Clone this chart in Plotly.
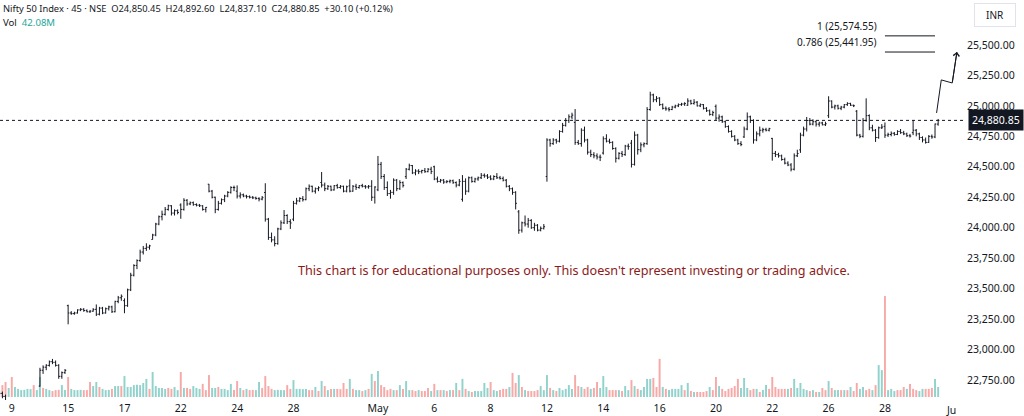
import plotly.graph_objects as go
import numpy as np

# ---------------- DATA ----------------
# trading days shown and number of 45-min bars visible for each
trading_days = ["Apr 8", "Apr 9", "Apr 11", "Apr 15", "Apr 16", "Apr 17", "Apr 21", "Apr 22",
                "Apr 23", "Apr 24", "Apr 25", "Apr 28", "Apr 29", "Apr 30", "May 2", "May 5",
                "May 6", "May 7", "May 8", "May 9", "May 12", "May 13", "May 14", "May 15",
                "May 16", "May 19", "May 20", "May 21", "May 22", "May 23", "May 26", "May 27",
                "May 28", "May 29"]
bars_per_day = [4] + [9] * 33

opens = [
    22620, 22640, 22615, 22560,
    22460, 22420, 22440, 22410, 22395, 22420, 22445, 22430, 22410,
    22700, 22830, 22855, 22870, 22900, 22895, 22870, 22780, 22810,
    23360, 23300, 23295, 23300, 23325, 23330, 23320, 23310, 23315,
    23330, 23290, 23340, 23300, 23335, 23350, 23310, 23395, 23425,
    23401, 23360, 23490, 23610, 23690, 23730, 23800, 23830, 23840,
    23903, 23940, 24030, 24090, 24110, 24150, 24180, 24120, 24140,
    24186, 24150, 24225, 24195, 24205, 24190, 24185, 24180, 24150,
    24357, 24300, 24250, 24150, 24200, 24230, 24260, 24290, 24330,
    24300, 24260, 24270, 24260, 24255, 24250, 24245, 24240, 24235,
    24289, 24070, 23920, 23900, 23870, 23990, 24040, 24100, 24050,
    24070, 24200, 24220, 24240, 24230, 24320, 24340, 24300, 24320,
    24371, 24350, 24320, 24340, 24310, 24345, 24330, 24340, 24300,
    24343, 24300, 24340, 24330, 24345, 24340, 24335, 24340, 24250,
    24311, 24520, 24420, 24330, 24280, 24290, 24390, 24320, 24370,
    24419, 24480, 24510, 24450, 24465, 24460, 24470, 24460, 24480,
    24500, 24400, 24380, 24390, 24375, 24380, 24385, 24370, 24350,
    24233, 24380, 24300, 24410, 24380, 24400, 24410, 24430, 24425,
    24416, 24400, 24420, 24410, 24405, 24390, 24340, 24320, 24290,
    24130, 23980, 24040, 24030, 24060, 24000, 24020, 23980, 23995,
    24420, 24720, 24690, 24720, 24710, 24790, 24840, 24880, 24910,
    24864, 24700, 24690, 24800, 24720, 24620, 24600, 24590, 24580,
    24613, 24730, 24710, 24700, 24650, 24570, 24610, 24600, 24670,
    24694, 24520, 24760, 24640, 24680, 24690, 24970, 25090, 25050,
    25064, 25010, 24980, 24975, 24970, 24990, 25000, 25010, 25015,
    25005, 25040, 25020, 25030, 25000, 25010, 24980, 24960, 24930,
    24996, 24900, 24910, 24870, 24830, 24790, 24750, 24720, 24690,
    24745, 24810, 24910, 24880, 24720, 24770, 24800, 24805, 24800,
    24733, 24610, 24600, 24590, 24560, 24530, 24515, 24480, 24590,
    24639, 24760, 24810, 24880, 24850, 24870, 24850, 24860, 24845,
    24919, 25040, 24990, 25000, 24980, 24990, 25010, 25020, 25005,
    24956, 24760, 24750, 24880, 24920, 24820, 24800, 24740, 24820,
    24832, 24760, 24765, 24775, 24765, 24790, 24780, 24770, 24755,
    24780, 24800, 24770, 24740, 24720, 24700, 24750, 24745, 24850.45,
]
highs = [
    22660, 22655, 22630, 22580,
    22468, 22450, 22455, 22430, 22425, 22455, 22460, 22440, 22425,
    22850, 22870, 22880, 22910, 22923, 22910, 22880, 22820, 22840,
    23368, 23315, 23310, 23330, 23340, 23340, 23330, 23325, 23340,
    23370, 23350, 23350, 23345, 23360, 23360, 23400, 23440, 23452,
    23420, 23500, 23630, 23700, 23740, 23820, 23850, 23872, 23860,
    23950, 24040, 24100, 24140, 24170, 24189, 24185, 24150, 24150,
    24200, 24242, 24235, 24215, 24215, 24200, 24195, 24185, 24170,
    24359, 24310, 24255, 24220, 24240, 24270, 24300, 24340, 24345,
    24347, 24290, 24280, 24270, 24265, 24260, 24255, 24250, 24260,
    24365, 24080, 23960, 23930, 24000, 24060, 24145, 24110, 24070,
    24220, 24245, 24250, 24260, 24330, 24355, 24345, 24330, 24340,
    24457, 24370, 24350, 24345, 24350, 24360, 24350, 24345, 24345,
    24396, 24350, 24360, 24350, 24360, 24350, 24350, 24390, 24340,
    24589, 24540, 24440, 24380, 24310, 24405, 24400, 24390, 24380,
    24490, 24526, 24515, 24480, 24480, 24475, 24490, 24490, 24500,
    24509, 24420, 24400, 24400, 24390, 24395, 24395, 24380, 24400,
    24432, 24405, 24420, 24420, 24410, 24420, 24449, 24445, 24440,
    24430, 24430, 24448, 24425, 24420, 24400, 24350, 24330, 24300,
    24145, 24050, 24100, 24080, 24070, 24040, 24030, 24010, 24030,
    24734, 24730, 24735, 24730, 24800, 24860, 24900, 24930, 24944,
    24974, 24720, 24816, 24830, 24730, 24640, 24620, 24610, 24600,
    24750, 24767, 24730, 24710, 24660, 24620, 24630, 24680, 24690,
    24720, 24790, 24770, 24700, 24700, 24990, 25116, 25100, 25080,
    25071, 25020, 24995, 24990, 25000, 25010, 25020, 25025, 25030,
    25062, 25050, 25055, 25040, 25020, 25015, 24990, 24970, 24960,
    25011, 24930, 24920, 24880, 24840, 24800, 24760, 24730, 24710,
    24830, 24946, 24920, 24890, 24790, 24830, 24820, 24820, 24820,
    24737, 24630, 24615, 24600, 24575, 24545, 24530, 24610, 24640,
    24780, 24830, 24909, 24900, 24890, 24880, 24870, 24870, 24870,
    25079, 25045, 25010, 25010, 25000, 25015, 25030, 25025, 25010,
    24966, 24770, 24900, 25062, 24930, 24845, 24810, 24830, 24850,
    24864, 24780, 24790, 24785, 24800, 24810, 24795, 24780, 24770,
    24884, 24810, 24780, 24750, 24740, 24760, 24765, 24855, 24892.60,
]
lows = [
    22590, 22600, 22540, 22500,
    22400, 22380, 22400, 22370, 22353, 22390, 22420, 22400, 22390,
    22695, 22800, 22830, 22860, 22880, 22860, 22760, 22760, 22800,
    23207, 23285, 23285, 23295, 23315, 23310, 23305, 23300, 23310,
    23275, 23280, 23290, 23295, 23320, 23300, 23305, 23380, 23400,
    23298, 23350, 23480, 23600, 23660, 23720, 23780, 23810, 23820,
    23903, 23930, 24020, 24060, 24100, 24140, 24100, 24100, 24110,
    24073, 24140, 24180, 24185, 24180, 24175, 24170, 24140, 24125,
    24290, 24240, 24119, 24140, 24190, 24210, 24250, 24280, 24300,
    24240, 24240, 24250, 24240, 24240, 24235, 24230, 24216, 24225,
    24050, 23900, 23880, 23847, 23860, 23980, 24030, 24030, 23990,
    24054, 24190, 24210, 24215, 24225, 24300, 24290, 24280, 24300,
    24330, 24300, 24310, 24300, 24305, 24320, 24320, 24290, 24290,
    24290, 24295, 24310, 24320, 24330, 24320, 24320, 24220, 24198,
    24300, 24400, 24310, 24260, 24238, 24270, 24300, 24310, 24330,
    24400, 24470, 24440, 24430, 24440, 24445, 24450, 24455, 24440,
    24390, 24370, 24370, 24360, 24365, 24365, 24360, 24331, 24340,
    24214, 24270, 24290, 24370, 24370, 24385, 24400, 24410, 24400,
    24390, 24390, 24400, 24395, 24380, 24330, 24300, 24270, 24150,
    23950, 23960, 24010, 24000, 23990, 23975, 23970, 23970, 23985,
    24378, 24665, 24680, 24690, 24700, 24780, 24830, 24860, 24890,
    24680, 24680, 24665, 24700, 24600, 24580, 24570, 24560, 24547,
    24600, 24700, 24690, 24640, 24535, 24560, 24580, 24590, 24640,
    24494, 24510, 24600, 24620, 24660, 24680, 24960, 25030, 25030,
    25000, 24970, 24960, 24954, 24965, 24980, 24990, 25000, 25000,
    25000, 25010, 25010, 24995, 24990, 24970, 24950, 24920, 24916,
    24880, 24870, 24860, 24820, 24780, 24740, 24710, 24680, 24669,
    24737, 24800, 24860, 24690, 24710, 24750, 24780, 24790, 24790,
    24550, 24580, 24575, 24550, 24520, 24505, 24462, 24470, 24580,
    24614, 24750, 24790, 24840, 24840, 24830, 24830, 24840, 24835,
    24900, 24980, 24970, 24970, 24965, 24980, 25000, 25000, 24990,
    24750, 24735, 24740, 24870, 24800, 24790, 24704, 24730, 24810,
    24737, 24745, 24750, 24755, 24760, 24770, 24760, 24745, 24740,
    24760, 24750, 24720, 24700, 24690, 24695, 24730, 24735, 24837.10,
]
closes = [
    22640, 22615, 22560, 22535,
    22420, 22440, 22410, 22395, 22420, 22445, 22430, 22410, 22399,
    22830, 22855, 22870, 22900, 22895, 22870, 22780, 22810, 22829,
    23300, 23295, 23300, 23325, 23330, 23320, 23310, 23315, 23328,
    23290, 23340, 23300, 23335, 23350, 23310, 23395, 23425, 23437,
    23360, 23490, 23610, 23690, 23730, 23800, 23830, 23840, 23851,
    23940, 24030, 24090, 24110, 24150, 24180, 24120, 24140, 24125,
    24150, 24225, 24195, 24205, 24190, 24185, 24180, 24150, 24167,
    24300, 24250, 24150, 24200, 24230, 24260, 24290, 24330, 24329,
    24260, 24270, 24260, 24255, 24250, 24245, 24240, 24235, 24247,
    24070, 23920, 23900, 23870, 23990, 24040, 24100, 24050, 24039,
    24200, 24220, 24240, 24230, 24320, 24340, 24300, 24320, 24328,
    24350, 24320, 24340, 24310, 24345, 24330, 24340, 24300, 24336,
    24300, 24340, 24330, 24345, 24340, 24335, 24340, 24250, 24334,
    24520, 24420, 24330, 24280, 24290, 24390, 24320, 24370, 24347,
    24480, 24510, 24450, 24465, 24460, 24470, 24460, 24480, 24461,
    24400, 24380, 24390, 24375, 24380, 24385, 24370, 24350, 24380,
    24380, 24300, 24410, 24380, 24400, 24410, 24430, 24425, 24414,
    24400, 24420, 24410, 24405, 24390, 24340, 24320, 24290, 24200,
    23980, 24040, 24030, 24060, 24000, 24020, 23980, 23995, 24008,
    24720, 24690, 24720, 24710, 24790, 24840, 24880, 24910, 24924,
    24700, 24690, 24800, 24720, 24620, 24600, 24590, 24580, 24578,
    24730, 24710, 24700, 24650, 24570, 24610, 24600, 24670, 24666,
    24520, 24760, 24640, 24680, 24690, 24970, 25090, 25050, 25062,
    25010, 24980, 24975, 24970, 24990, 25000, 25010, 25015, 25019,
    25040, 25020, 25030, 25000, 25010, 24980, 24960, 24930, 24945,
    24900, 24910, 24870, 24830, 24790, 24750, 24720, 24690, 24683,
    24810, 24910, 24880, 24720, 24770, 24800, 24805, 24800, 24813,
    24610, 24600, 24590, 24560, 24530, 24515, 24480, 24590, 24609,
    24760, 24810, 24880, 24850, 24870, 24850, 24860, 24845, 24853,
    25040, 24990, 25000, 24980, 24990, 25010, 25020, 25005, 25001,
    24760, 24750, 24880, 24920, 24820, 24800, 24740, 24820, 24826,
    24760, 24765, 24775, 24765, 24790, 24780, 24770, 24755, 24752,
    24800, 24770, 24740, 24720, 24700, 24750, 24745, 24850.75, 24880.85,
]
# volume in millions as seen in the volume pane
volumes = [
    29, 50, 63, 38,
    84, 42, 34, 29, 30, 34, 33, 50, 29,
    84, 38, 34, 29, 25, 29, 30, 50, 29,
    84, 34, 29, 29, 30, 29, 29, 63, 46,
    63, 42, 34, 29, 30, 34, 46, 46, 46,
    88, 42, 42, 50, 51, 50, 59, 76, 34,
    105, 46, 38, 38, 34, 38, 34, 42, 29,
    105, 38, 38, 34, 46, 38, 34, 55, 29,
    92, 38, 38, 42, 34, 34, 29, 55, 29,
    67, 38, 29, 34, 29, 30, 29, 63, 38,
    88, 46, 34, 29, 30, 29, 29, 50, 34,
    71, 34, 34, 33, 34, 29, 29, 42, 25,
    67, 46, 29, 34, 34, 34, 33, 59, 34,
    76, 34, 29, 29, 25, 29, 34, 97, 67,
    109, 50, 42, 29, 34, 29, 29, 50, 34,
    67, 29, 29, 25, 29, 25, 25, 38, 25,
    55, 29, 29, 29, 25, 29, 29, 59, 29,
    76, 34, 25, 21, 25, 25, 25, 59, 38,
    63, 29, 25, 29, 34, 34, 42, 101, 59,
    92, 42, 29, 25, 25, 25, 29, 46, 29,
    92, 38, 29, 25, 38, 29, 34, 50, 34,
    92, 46, 42, 34, 42, 34, 38, 63, 38,
    88, 42, 29, 29, 29, 29, 25, 46, 29,
    71, 46, 34, 29, 42, 76, 76, 80, 42,
    160, 42, 34, 29, 34, 34, 34, 50, 29,
    59, 25, 21, 21, 21, 21, 25, 42, 29,
    84, 46, 34, 25, 34, 38, 46, 76, 38,
    80, 38, 29, 34, 34, 21, 29, 50, 34,
    84, 42, 34, 34, 34, 34, 38, 76, 38,
    59, 34, 29, 25, 29, 21, 21, 38, 29,
    67, 38, 29, 29, 29, 29, 29, 42, 25,
    59, 34, 42, 29, 34, 29, 50, 134, 113,
    424, 29, 34, 25, 29, 29, 42, 34, 55,
    34, 29, 25, 34, 34, 34, 38, 76, 42.08,
]
# volume bar colour per day (u = teal / up, d = red / down), as seen in the reference
vol_dir_days = [
    "u d d u",
    "d u u u u u u d u",   # Apr 9
    "u d u u d d d u u",   # Apr 11
    "d u u u u d d d u",   # Apr 15
    "u d u u u d u u d",   # Apr 16
    "u u u u u u u u d",   # Apr 17
    "u u u u u d d u u",   # Apr 21
    "d u d d u u u d d",   # Apr 22
    "d u u d u u u u d",   # Apr 23
    "d u d u d d u u d",   # Apr 24
    "d d d u u u u d d",   # Apr 25
    "u u u u u d d u d",   # Apr 28
    "u d u d u d d d d",   # Apr 29
    "u d u u d u d u d",   # Apr 30
    "u d d d d u d u d",   # May 2
    "u u d d u d d d u",   # May 5
    "d u d u d u d u d",   # May 6
    "u d u d u u u u u",   # May 7
    "d u u d d d u d d",   # May 8
    "u d u d d d d u u",   # May 9
    "u d u d u u u u u",   # May 12
    "d d u d d u d d u",   # May 13
    "u u d d d u d u u",   # May 14
    "d u d u u u u d d",   # May 15
    "d u d u u u u u d",   # May 16
    "u d u d d d d u d",   # May 19
    "d u d d d d d d u",   # May 20
    "u u d d u d u u d",   # May 21
    "d d d d d u d u u",   # May 22
    "u u u d u d u d d",   # May 23
    "u d u u d u d u d",   # May 26
    "d u u d d u d u u",   # May 27
    "d u u u d d d u d",   # May 28
    "d d u u d d d u u",   # May 29
]

# x-axis day labels (first bar of these days)
tick_days = ["Apr 9", "Apr 15", "Apr 17", "Apr 22", "Apr 24", "Apr 28", "May 2", "May 6",
             "May 8", "May 12", "May 14", "May 16", "May 20", "May 22", "May 26", "May 28"]
tick_text = ["9", "15", "17", "22", "24", "28", "May", "6", "8", "12", "14", "16", "20",
             "22", "26", "28"]
price_ticks = [22750, 23000, 23250, 23500, 23750, 24000, 24250, 24500, 24750, 25000, 25250, 25500]

# Fibonacci extension levels and the projected path (drawn tool)
fib_levels = ["1", "0.786"]
fib_prices = [25574.55, 25441.95]
proj_bars = [295.5, 297.0, 300.5, 302.0]
proj_prices = [24942, 25213, 25188, 25442]

last_close = 24880.85
header = ("Nifty 50 Index · 45 · NSE&nbsp;&nbsp;O24,850.45&nbsp;&nbsp;H24,892.60&nbsp;&nbsp;"
          "L24,837.10&nbsp;&nbsp;C24,880.85&nbsp;&nbsp;+30.10 (+0.12%)")
vol_text = "42.08M"
disclaimer = ("This chart is for educational purposes only. This doesn't represent "
              "investing or trading advice.")

# ---------------- BUILD ----------------
vol_dir = "".join(d.replace(" ", "") for d in vol_dir_days)

n = sum(bars_per_day)
first_day_offset = bars_per_day[0]
x = np.arange(n) - first_day_offset  # bar 0 = first bar of Apr 9

day_start = {}
pos = -first_day_offset
for d, k in zip(trading_days, bars_per_day):
    day_start[d] = pos
    pos += k
tick_vals = [day_start[d] for d in tick_days]

UP = "rgba(38,166,154,0.5)"
DN = "rgba(239,83,80,0.5)"
vol_colors = [UP if ch == "u" else DN for ch in vol_dir[:n]]
if len(vol_colors) < n:
    vol_colors += [UP] * (n - len(vol_colors))

INK = "#131722"
FONT = "Noto Sans"

fig = go.Figure()
fig.add_trace(go.Bar(x=x, y=volumes, marker=dict(color=vol_colors, line=dict(width=0)),
                     width=0.62, yaxis="y", hoverinfo="skip", showlegend=False))
fig.add_trace(go.Ohlc(x=x, open=opens, high=highs, low=lows, close=closes, yaxis="y2",
                      increasing=dict(line=dict(color=INK, width=1)),
                      decreasing=dict(line=dict(color=INK, width=1)),
                      tickwidth=0.4, hoverinfo="skip", showlegend=False))
fig.add_trace(go.Scatter(x=proj_bars, y=proj_prices, yaxis="y2", mode="lines",
                         line=dict(color=INK, width=1), hoverinfo="skip", showlegend=False))

fib_start, fib_end = 279.0, 295.0
shapes = []
annotations = []
for lvl, p in zip(fib_levels, fib_prices):
    shapes.append(dict(type="line", xref="x", yref="y2", x0=fib_start, x1=fib_end, y0=p, y1=p,
                       line=dict(color=INK, width=1)))
    annotations.append(dict(xref="x", yref="y2", x=fib_start, y=p, xanchor="right",
                            yanchor="middle", xshift=-6, yshift=10, showarrow=False,
                            text=f"{lvl} ({p:,.2f})", font=dict(family=FONT, size=10, color=INK)))
# last price dotted line
shapes.append(dict(type="line", xref="paper", yref="y2", x0=0, x1=1, y0=last_close, y1=last_close,
                   line=dict(color=INK, width=1, dash="dot")))
# arrow head on the projection
annotations.append(dict(xref="x", yref="y2", axref="x", ayref="y2", x=proj_bars[-1], y=proj_prices[-1],
                        ax=proj_bars[-2], ay=proj_prices[-2], showarrow=True, arrowhead=4,
                        arrowsize=1.2, arrowwidth=1, arrowcolor=INK, text=""))
# last price label
annotations.append(dict(xref="paper", yref="y2", x=1, y=last_close, xanchor="left", yanchor="middle",
                        xshift=2, showarrow=False, text=f"{last_close:,.2f}", bgcolor=INK,
                        borderpad=3, font=dict(family=FONT, size=10.5, color="white")))
# header
annotations.append(dict(xref="paper", yref="paper", x=0, y=1, xanchor="left", yanchor="top",
                        xshift=1, yshift=0, showarrow=False, text=header,
                        font=dict(family=FONT, size=9.3, color=INK)))
annotations.append(dict(xref="paper", yref="paper", x=0, y=1, xanchor="left", yanchor="top",
                        xshift=1, yshift=-14, showarrow=False,
                        text=f"Vol&nbsp;&nbsp;<span style='color:#26a69a'>{vol_text}</span>",
                        font=dict(family=FONT, size=9.6, color=INK)))
# currency box
annotations.append(dict(xref="paper", yref="paper", x=1.0305, y=1, xanchor="center", yanchor="top",
                        yshift=-3, showarrow=False, text="INR", bordercolor="#e0e3eb", borderwidth=1,
                        borderpad=4, bgcolor="white", font=dict(family=FONT, size=10, color=INK),
                        width=32))
# disclaimer
annotations.append(dict(xref="paper", yref="paper", x=0.594, y=0.325, xanchor="center",
                        yanchor="middle", showarrow=False, text=disclaimer,
                        font=dict(family=FONT, size=12.6, color="#8b1a1a")))
# partially visible next-month label at the right edge
annotations.append(dict(xref="paper", yref="paper", x=0.9915, y=0, xanchor="right", yanchor="top",
                        yshift=-1, showarrow=False, text="Ju", font=dict(family=FONT, size=10.5, color=INK)))

vol_max_px = 4.2  # millions per pixel
plot_h = 400
fig.update_layout(
    width=1024, height=416,
    margin=dict(l=0, r=58, t=0, b=16),
    paper_bgcolor="white", plot_bgcolor="white",
    showlegend=False, hovermode=False,
    xaxis=dict(range=[-3.77, 304.9], showgrid=False, zeroline=False, showline=False,
               tickmode="array", tickvals=tick_vals, ticktext=tick_text, ticks="",
               tickfont=dict(family=FONT, size=10.5, color=INK), rangeslider=dict(visible=False),
               fixedrange=True),
    yaxis=dict(range=[-3 * vol_max_px, (plot_h - 3) * vol_max_px], visible=False, fixedrange=True),
    yaxis2=dict(overlaying="y", side="right", range=[22585.7, 25869.0], showgrid=False,
                zeroline=False, showline=False, tickmode="array", tickvals=price_ticks,
                ticktext=[f"{v:,.2f}" for v in price_ticks], ticks="",
                tickfont=dict(family=FONT, size=10.5, color=INK), fixedrange=True),
    shapes=shapes, annotations=annotations,
)

fig.write_html("out.html", include_plotlyjs=True, config={"displayModeBar": False, "staticPlot": True},
               post_script="document.body.style.margin='0';document.body.style.overflow='hidden';")
